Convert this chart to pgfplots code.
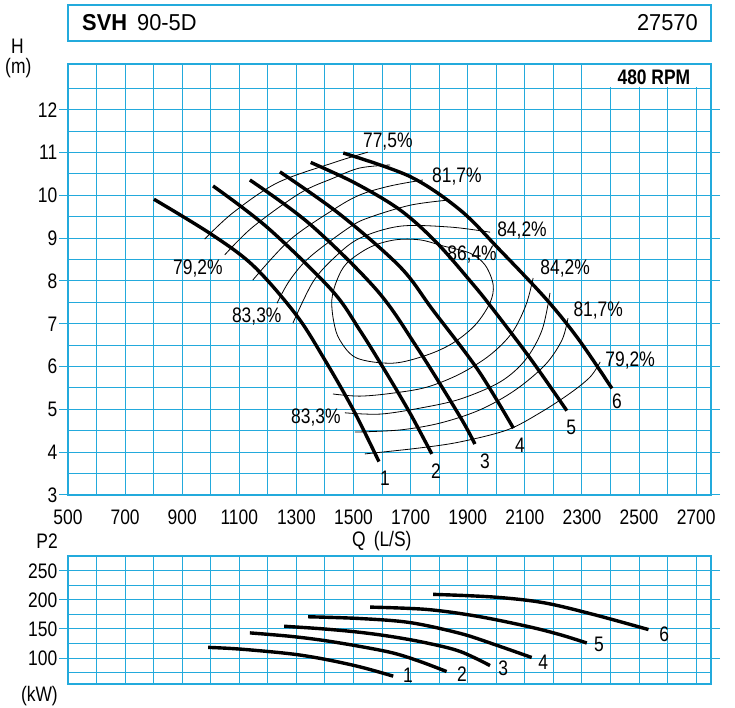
\documentclass[border=0pt]{standalone}
\usepackage{fontspec}
\setmainfont{Liberation Sans}[FakeStretch=0.83]
\newfontfamily\titlefont{Liberation Sans}[FakeStretch=0.95]
\usepackage{pgfplots}
\pgfplotsset{compat=1.18}
\definecolor{gridc}{RGB}{35,170,220}
\tikzset{
  lab/.style={font=\fontsize{21}{21}\selectfont, inner sep=0pt},
  thick curve/.style={black, line width=3.4pt, smooth, tension=0.55},
  thin curve/.style={black, line width=0.8pt, smooth, tension=0.55},
}
\pgfplotsset{
  chartstyle/.style={
    scale only axis, width=643pt,
    xmin=500, xmax=2752,
    axis line style={gridc, line width=1.2pt},
    grid=both,
    major grid style={gridc, line width=1.0pt},
    minor grid style={gridc, line width=1.0pt},
    xtick={500,700,...,2700},
    minor xtick={600,800,...,2600},
    tick align=outside,
    major tick length=9pt,
    minor tick length=0pt,
    xtick style={draw=none},
    ytick style={gridc, line width=1.0pt},
    tick label style={font=\fontsize{21}{21}\selectfont},
    /pgf/number format/assume math mode=true,
    /pgf/number format/1000 sep={},
    yticklabel style={inner sep=1.5pt},
    xticklabel style={inner sep=1.5pt, yshift=-4pt},
  },
}
\begin{document}
\begin{tikzpicture}
\useasboundingbox (0pt,0pt) rectangle (735pt,708pt);
% title box
\draw[gridc, line width=1.3pt] (68pt,667pt) rectangle (711pt,703pt);
\node[anchor=base west, inner sep=0pt] at (82pt,677pt) {\titlefont\fontsize{23}{23}\selectfont\textbf{SVH}\hspace{10pt}90-5D};
\node[anchor=base east, inner sep=0pt] at (698pt,677pt) {\titlefont\fontsize{23}{23}\selectfont 27570};
% axis titles
\node[lab, anchor=west] at (11pt,662pt) {H};
\node[lab, anchor=west] at (5pt,640pt) {(m)};
\node[lab, anchor=east] at (58pt,167pt) {P2};
\node[lab, anchor=east] at (58pt,12pt) {(kW)};
\node[lab, anchor=west] at (352pt,167pt) {Q\hspace{8pt}(L/S)};

% ================= H-Q chart =================
\begin{axis}[chartstyle, at={(68pt,213pt)}, anchor=south west, height=431pt,
  ymin=3, ymax=13.07, ytick={3,...,12}, minor ytick={3.5,4.5,...,12.5}]
\fill[white] (axis cs:2312,12.53) rectangle (axis cs:2746,13.05);
\node[lab, anchor=east, font=\bfseries\fontsize{21}{21}\selectfont] at (axis cs:2680,12.77) {480 RPM};

% pump curves
\addplot[thick curve] coordinates {(801,9.91) (1000,9.10) (1150,8.35) (1300,7.20) (1400,6.15) (1500,4.98) (1589,3.78)};
\addplot[thick curve] coordinates {(1008,10.22) (1200,9.24) (1423,7.79) (1522,6.85) (1616,5.84) (1698,4.91) (1774,3.96)};
\addplot[thick curve] coordinates {(1137,10.36) (1347,9.33) (1581,7.79) (1721,6.46) (1873,4.83) (1925,4.19)};
\addplot[thick curve] coordinates {(1242,10.55) (1452,9.56) (1663,8.33) (1778,7.32) (1936,5.92) (2060,4.56)};
\addplot[thick curve] coordinates {(1350,10.77) (1505,10.29) (1663,9.66) (1792,8.89) (1920,7.91) (1985,7.37) (2118,6.20) (2247,4.97)};
\addplot[thick curve] coordinates {(1464,10.99) (1698,10.44) (1873,9.66) (2013,8.72) (2177,7.56) (2290,6.62) (2405,5.49)};

% efficiency lines, low-flow side
\addplot[thin curve] coordinates {(979,8.98) (1077,9.59) (1232,10.29) (1428,10.76) (1550,11.01)};
\addplot[thin curve] coordinates {(1049,8.61) (1147,9.26) (1312,10.05) (1428,10.40) (1522,10.64) (1628,10.71)};
\addplot[thin curve] coordinates {(1147,8.02) (1277,8.96) (1428,9.66) (1522,10.01) (1628,10.22) (1743,10.36)};
\addplot[thin curve] coordinates {(1232,7.48) (1277,8.02) (1347,8.56) (1487,9.26) (1558,9.49) (1698,9.77) (1831,9.89)};
\addplot[thin curve] coordinates {(1288,7.02) (1358,7.98) (1435,8.56) (1522,9.00) (1663,9.28) (1838,9.26) (1978,9.14)};
% efficiency lines, high-flow side
\addplot[thin curve] coordinates {(1428,5.36) (1522,5.31) (1638,5.38) (1757,5.52) (1873,5.83) (1978,6.27) (2055,6.79) (2104,7.44) (2129,8.07)};
\addplot[thin curve] coordinates {(1470,4.92) (1593,4.89) (1733,5.03) (1873,5.24) (2013,5.64) (2101,6.15) (2160,6.85) (2188,7.72)};
\addplot[thin curve] coordinates {(1505,4.47) (1663,4.52) (1803,4.68) (1943,4.99) (2066,5.45) (2171,6.04) (2230,6.62) (2251,7.13)};
\addplot[thin curve] coordinates {(1540,3.96) (1733,4.10) (1873,4.24) (2038,4.52) (2153,4.92) (2259,5.38) (2329,5.76) (2364,6.11)};
% best efficiency island
\addplot[thin curve, smooth cycle] coordinates {(1424,7.56) (1431,7.04) (1452,6.62) (1511,6.20) (1638,6.08) (1757,6.27) (1848,6.55) (1926,6.97) (1978,7.49) (1989,7.91) (1961,8.37) (1908,8.65) (1813,8.82) (1733,8.96) (1645,8.96) (1558,8.79) (1477,8.42) (1442,8.02)};

% efficiency labels
\node[lab] at (axis cs:1620,11.25) {77,5\%};
\node[lab] at (axis cs:1862,10.45) {81,7\%};
\node[lab] at (axis cs:2090,9.17) {84,2\%};
\node[lab] at (axis cs:1915,8.61) {86,4\%};
\node[lab] at (axis cs:2241,8.30) {84,2\%};
\node[lab] at (axis cs:2357,7.32) {81,7\%};
\node[lab] at (axis cs:2469,6.15) {79,2\%};
\node[lab] at (axis cs:955,8.30) {79,2\%};
\node[lab] at (axis cs:1161,7.18) {83,3\%};
\node[lab] at (axis cs:1368,4.82) {83,3\%};
% curve numbers
\node[lab] at (axis cs:1610,3.40) {1};
\node[lab] at (axis cs:1789,3.56) {2};
\node[lab] at (axis cs:1960,3.79) {3};
\node[lab] at (axis cs:2083,4.17) {4};
\node[lab] at (axis cs:2262,4.57) {5};
\node[lab] at (axis cs:2423,5.20) {6};
\end{axis}

% ================= P2-Q chart =================
\begin{axis}[chartstyle, at={(68pt,24pt)}, anchor=south west, height=128pt,
  ymin=55.5, ymax=275.4, ytick={100,150,200,250}, minor ytick={75,125,175,225},
  xticklabels={}]
\addplot[thick curve] coordinates {(991,118.4) (1102,115.5) (1277,107.5) (1394,98.5) (1522,85) (1639,69)};
\addplot[thick curve] coordinates {(1137,143.3) (1277,137.5) (1393,130.5) (1522,120.1) (1639,108.7) (1733,94.2) (1826,76.9)};
\addplot[thick curve] coordinates {(1257,154.7) (1393,150.2) (1522,144.3) (1639,136.5) (1756,126) (1873,111.5) (1978,87.2)};
\addplot[thick curve] coordinates {(1341,171) (1522,168) (1698,161) (1873,142.5) (1990,124) (2124,101)};
\addplot[thick curve] coordinates {(1558,187.6) (1756,183.6) (1932,172) (2107,154.7) (2223,140.3) (2317,125.9)};
\addplot[thick curve] coordinates {(1779,209.5) (1990,204.9) (2165,195.2) (2340,175) (2533,149)};
\node[lab] at (axis cs:1691,71.2) {1};
\node[lab] at (axis cs:1880,72.9) {2};
\node[lab] at (axis cs:2024,83.3) {3};
\node[lab] at (axis cs:2164,93.6) {4};
\node[lab] at (axis cs:2360,123.0) {5};
\node[lab] at (axis cs:2588,140.3) {6};
\end{axis}
\end{tikzpicture}
\end{document}
